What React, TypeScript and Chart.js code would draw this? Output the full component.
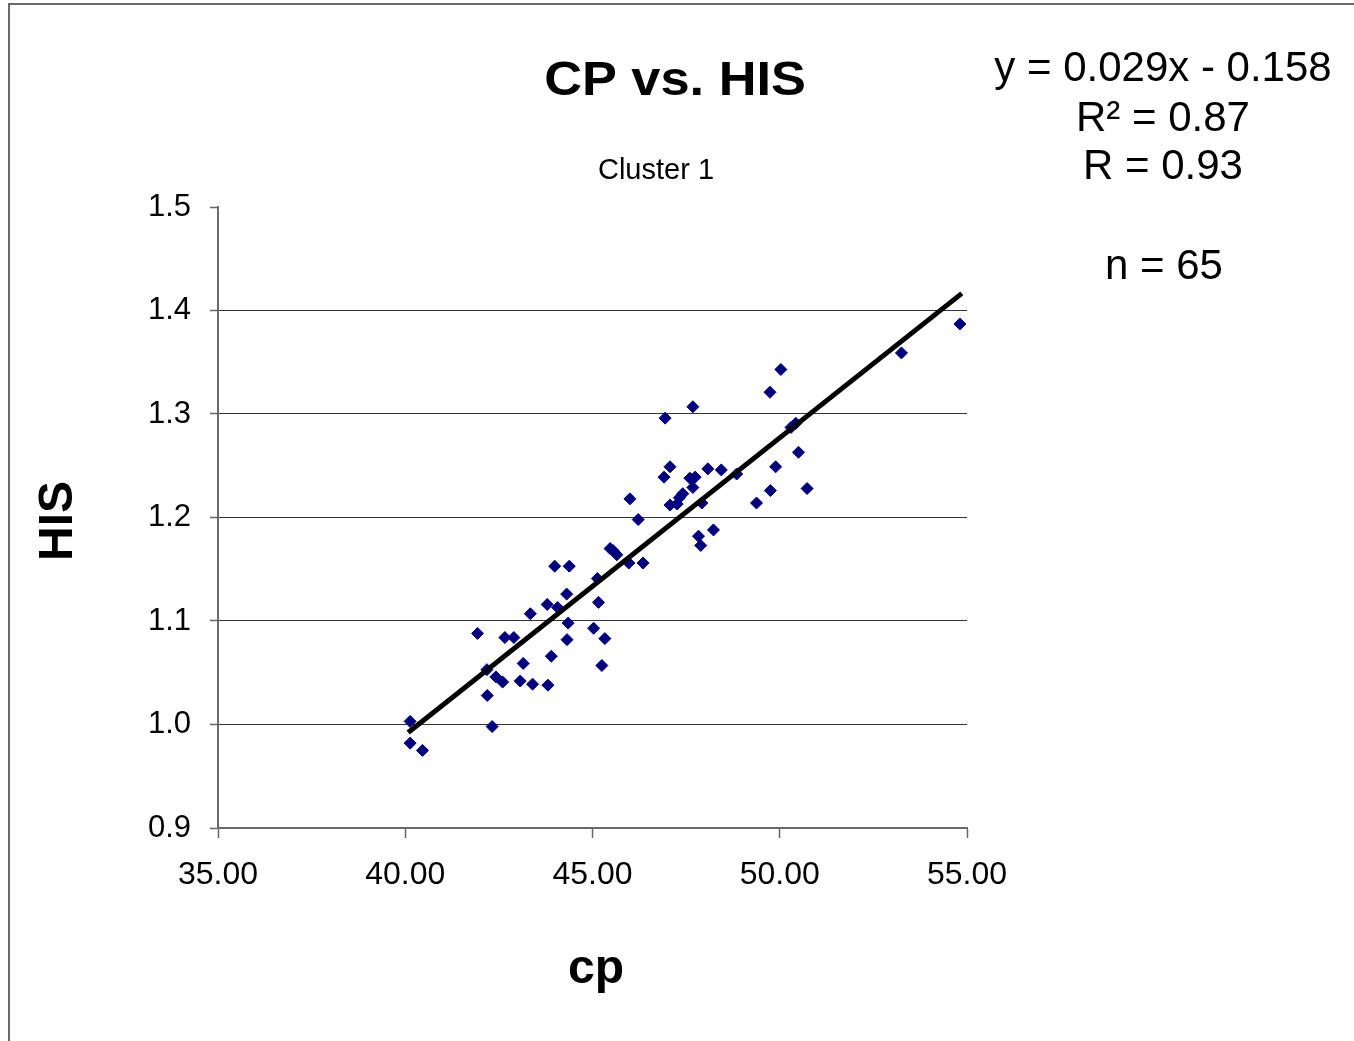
import React, { useEffect, useRef } from 'react';
import { Chart, registerables } from 'chart.js';

Chart.register(...registerables);

// ---- data ----
const cpValues = [
  40.13, 40.13, 40.46, 41.93, 42.18, 42.19, 42.32, 42.42, 42.6, 42.66,
  42.9, 43.15, 43.07, 43.4, 43.81, 43.34, 43.79, 44.07, 43.9, 43.99,
  44.38, 44.31, 44.35, 44.32, 45.13, 45.16, 45.03, 45.33, 45.25, 45.47,
  45.55, 45.65, 45.97, 46.35, 46.0, 46.22, 46.94, 46.91, 47.07, 47.07,
  47.26, 47.32, 47.41, 47.6, 47.74, 47.68, 47.68, 47.83, 47.89, 47.92,
  48.08, 48.23, 48.44, 48.85, 49.38, 49.74, 49.75, 49.89, 50.03, 50.3,
  50.43, 50.5, 50.73, 53.25, 54.81,
];
const hisValues = [
  1.003, 0.982, 0.975, 1.088, 1.053, 1.028, 0.998, 1.046, 1.041, 1.084,
  1.084, 1.059, 1.042, 1.039, 1.038, 1.107, 1.116, 1.113, 1.066, 1.153,
  1.153, 1.126, 1.098, 1.082, 1.141, 1.118, 1.093, 1.083, 1.057, 1.17,
  1.168, 1.164, 1.156, 1.156, 1.218, 1.198, 1.296, 1.239, 1.249, 1.212,
  1.213, 1.219, 1.223, 1.238, 1.239, 1.307, 1.229, 1.182, 1.173, 1.214,
  1.247, 1.188, 1.246, 1.242, 1.214, 1.321, 1.226, 1.249, 1.343, 1.287,
  1.291, 1.263, 1.228, 1.359, 1.387,
];
const TREND_SLOPE = 0.0287;
const TREND_INTERCEPT = -0.158;
const xTickValues = [35, 40, 45, 50, 55];
const yTickValues = [0.9, 1.0, 1.1, 1.2, 1.3, 1.4, 1.5];
const TITLE = 'CP vs. HIS';
const SUBTITLE = 'Cluster 1';
const STATS_LINES = ['y = 0.029x - 0.158', 'R\u00B2 = 0.87', 'R = 0.93', 'n = 65'];
const X_LABEL = 'cp';
const Y_LABEL = 'HIS';

const FONT = '"Liberation Sans", Arial, Helvetica, sans-serif';

function drawText(
  ctx: CanvasRenderingContext2D,
  text: string,
  x: number,
  y: number,
  font: string,
  scaleX = 1,
  rotate = 0
) {
  ctx.save();
  ctx.translate(x, y);
  if (rotate) ctx.rotate(rotate);
  ctx.scale(scaleX, 1);
  ctx.font = font;
  ctx.textAlign = 'center';
  ctx.textBaseline = 'alphabetic';
  ctx.fillStyle = '#000';
  ctx.fillText(text, 0, 0);
  ctx.restore();
}

const decorPlugin = {
  id: 'decor',
  beforeDraw(chart: any) {
    const ctx = chart.ctx as CanvasRenderingContext2D;
    ctx.save();
    ctx.fillStyle = '#fff';
    ctx.fillRect(0, 0, chart.width, chart.height);
    ctx.strokeStyle = '#6a6a6a';
    ctx.lineWidth = 2;
    ctx.beginPath();
    ctx.moveTo(9, chart.height + 2);
    ctx.lineTo(9, 4);
    ctx.lineTo(chart.width + 2, 4);
    ctx.stroke();
    ctx.restore();
  },
  afterDraw(chart: any) {
    const ctx = chart.ctx as CanvasRenderingContext2D;
    drawText(ctx, TITLE, 675, 95, `bold 48px ${FONT}`, 1.09);
    drawText(ctx, SUBTITLE, 656, 179, `29px ${FONT}`);
    const statPos = [
      [1163, 81],
      [1163, 131],
      [1163, 179],
      [1164, 279],
    ];
    STATS_LINES.forEach((t, i) => {
      drawText(ctx, t, statPos[i][0], statPos[i][1], `42px ${FONT}`);
    });
    drawText(ctx, Y_LABEL, 72, 521, `bold 48px ${FONT}`, 1, -Math.PI / 2);
    drawText(ctx, X_LABEL, 596, 983, `bold 48px ${FONT}`);
  },
};

export default function App() {
  const ref = useRef<HTMLCanvasElement | null>(null);

  useEffect(() => {
    if (!ref.current) return;
    const points = cpValues.map((x, i) => ({ x, y: hisValues[i] }));
    const xMin = Math.min(...cpValues);
    const xMax = Math.max(...cpValues);
    const trend = [
      { x: xMin, y: TREND_SLOPE * xMin + TREND_INTERCEPT },
      { x: xMax, y: TREND_SLOPE * xMax + TREND_INTERCEPT },
    ];

    const chart = new Chart(ref.current, {
      type: 'scatter',
      data: {
        datasets: [
          {
            type: 'line',
            label: 'trend',
            data: trend,
            borderColor: '#000',
            borderWidth: 5,
            borderCapStyle: 'square',
            pointRadius: 0,
            fill: false,
            order: 0,
          } as any,
          {
            label: 'HIS',
            data: points,
            pointStyle: 'rectRot',
            pointRadius: 6,
            pointBackgroundColor: '#000080',
            pointBorderColor: '#000080',
            pointBorderWidth: 1,
            order: 1,
          },
        ],
      },
      options: {
        animation: false,
        responsive: false,
        maintainAspectRatio: false,
        layout: { padding: { top: 207, right: 387, bottom: 0, left: 0 } },
        plugins: {
          legend: { display: false },
          title: { display: false },
          tooltip: { enabled: false },
        },
        scales: {
          x: {
            type: 'linear',
            min: 35,
            max: 55,
            afterBuildTicks: (s: any) => {
              s.ticks = xTickValues.map((v) => ({ value: v }));
            },
            afterFit: (s: any) => {
              s.height = 213;
            },
            ticks: {
              color: '#000',
              font: { family: FONT, size: 32 },
              padding: 18,
              maxRotation: 0,
              callback: (v: any) => Number(v).toFixed(2),
            },
            grid: {
              drawOnChartArea: false,
              drawTicks: true,
              tickLength: 10,
              tickColor: '#666',
              tickWidth: 1.5,
            },
            border: { display: true, color: '#6a6a6a', width: 2 },
          },
          y: {
            type: 'linear',
            min: 0.9,
            max: 1.5,
            afterBuildTicks: (s: any) => {
              s.ticks = yTickValues.map((v) => ({ value: v }));
            },
            afterFit: (s: any) => {
              s.width = 218;
            },
            ticks: {
              color: '#000',
              font: { family: FONT, size: 31 },
              padding: 19,
              callback: (v: any) => Number(v).toFixed(1),
            },
            grid: {
              color: (c: any) =>
                c.tick && Math.abs(c.tick.value - 1.5) < 1e-9 ? 'rgba(0,0,0,0)' : '#333',
              lineWidth: 1,
              drawTicks: true,
              tickLength: 8,
              tickColor: '#666',
              tickWidth: 1.5,
            },
            border: { display: true, color: '#6a6a6a', width: 2 },
          },
        },
      },
      plugins: [decorPlugin],
    });
    return () => chart.destroy();
  }, []);

  return (
    <div
      style={{
        position: 'absolute',
        left: 0,
        top: 0,
        width: 1354,
        height: 1041,
        background: '#fff',
      }}
    >
      <canvas ref={ref} width={1354} height={1041} style={{ display: 'block' }} />
    </div>
  );
}
